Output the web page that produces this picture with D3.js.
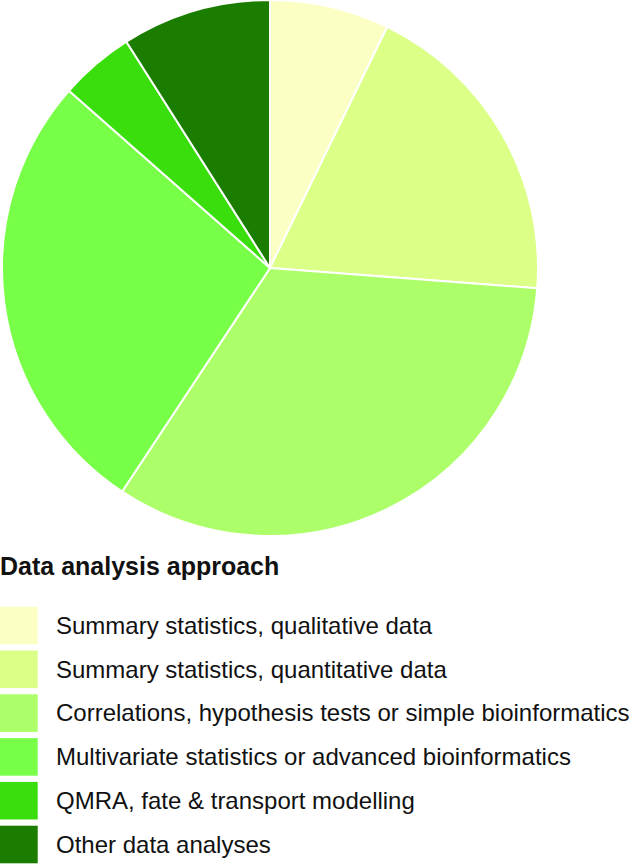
<!DOCTYPE html>
<html>
<head>
<meta charset="utf-8">
<script src="https://cdn.jsdelivr.net/npm/d3@7"></script>
<style>
  body { margin: 0; background: #fff; }
  svg { display: block; font-family: "Liberation Sans", Arial, sans-serif; }
</style>
</head>
<body>
<div id="chart"></div>
<script>
const categories = [
  "Summary statistics, qualitative data",
  "Summary statistics, quantitative data",
  "Correlations, hypothesis tests or simple bioinformatics",
  "Multivariate statistics or advanced bioinformatics",
  "QMRA, fate & transport modelling",
  "Other data analyses"
];
// share of studies, %
const shares = [7.2, 19.0, 33.1, 27.2, 4.5, 9.0];
const colors = ["#fbffc4", "#dcff88", "#acff68", "#78ff48", "#3ade0c", "#1a7d00"];
const legendTitle = "Data analysis approach";

const width = 629;
const height = 864;
const cx = 270, cy = 268, radius = 268;

const svg = d3.select("#chart").append("svg")
    .attr("width", width)
    .attr("height", height);

const data = categories.map((c, i) => ({name: c, value: shares[i]}));

const color = d3.scaleOrdinal()
    .domain(categories)
    .range(colors);

// pie, clockwise from 12 o'clock in data order
const pie = d3.pie()
    .sort(null)
    .value(d => d.value);

const arc = d3.arc()
    .innerRadius(0)
    .outerRadius(radius);

const g = svg.append("g")
    .attr("transform", "translate(" + cx + "," + cy + ")");

g.selectAll("path")
    .data(pie(data))
    .enter().append("path")
    .attr("d", arc)
    .attr("fill", d => color(d.data.name))
    .attr("stroke", "#fff")
    .attr("stroke-width", 2)
    .attr("stroke-linejoin", "round");

// legend
svg.append("text")
    .attr("x", 0)
    .attr("y", 575)
    .attr("font-size", 25)
    .attr("font-weight", "bold")
    .attr("fill", "#111")
    .text(legendTitle);

const y = d3.scaleBand()
    .domain(categories)
    .range([606.7, 863.3])
    .paddingInner(0.142)
    .paddingOuter(0);

const rows = svg.selectAll(".leg")
    .data(categories)
    .enter().append("g")
    .attr("class", "leg")
    .attr("transform", d => "translate(0," + y(d) + ")");

rows.append("rect")
    .attr("x", 0)
    .attr("width", 37.7)
    .attr("height", y.bandwidth())
    .attr("fill", d => color(d));

rows.append("text")
    .attr("x", 56)
    .attr("y", y.bandwidth() / 2)
    .attr("dy", "0.35em")
    .attr("font-size", 24)
    .attr("fill", "#111")
    .text(d => d);
</script>
</body>
</html>
